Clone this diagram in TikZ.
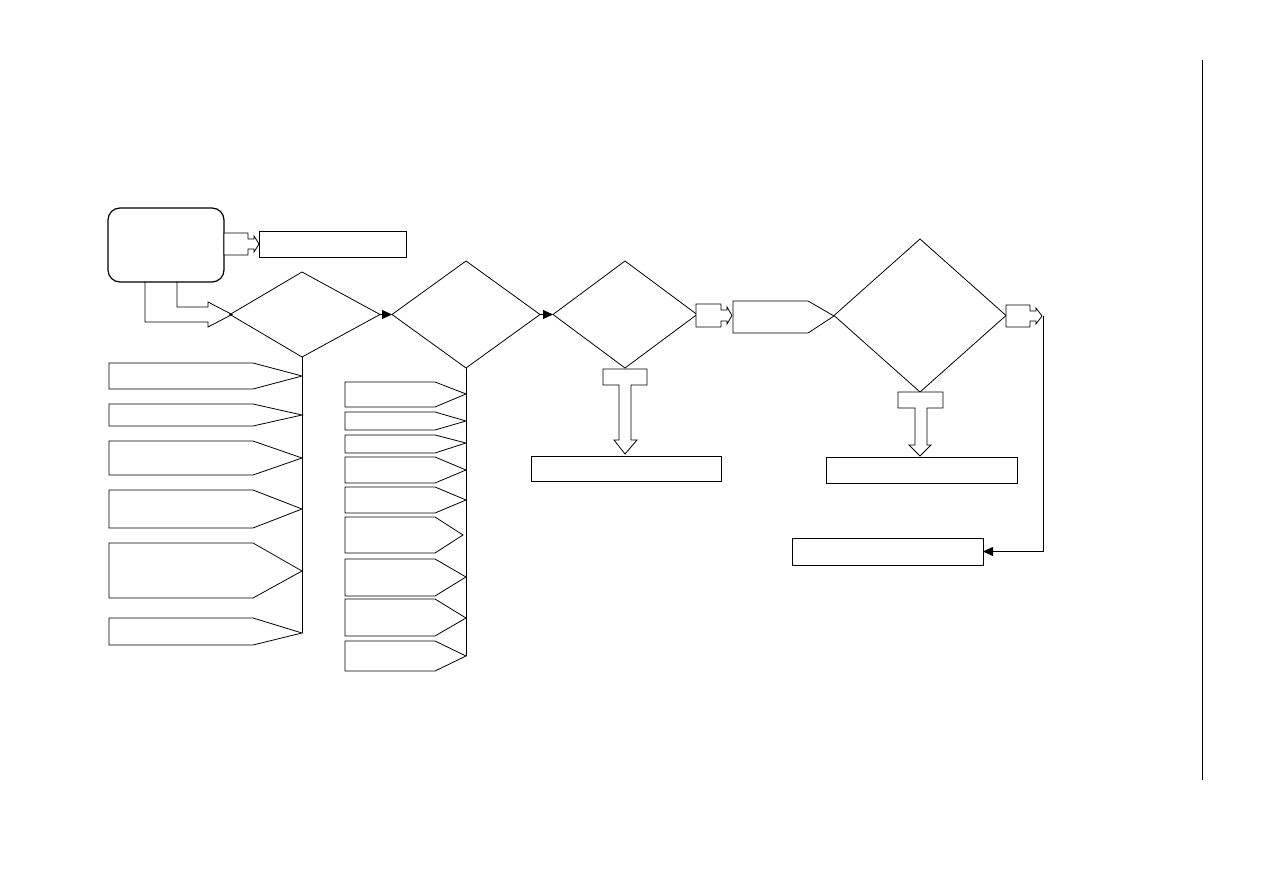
\documentclass[tikz,border=0pt]{standalone}
\usetikzlibrary{arrows.meta,shapes.geometric}
\begin{document}
\begin{tikzpicture}[x=1pt,y=-1pt, line width=0.8pt, line join=miter,
  box/.style={draw, rectangle, inner sep=0pt, outer sep=0pt, anchor=north west},
  dia/.style={draw, diamond, inner sep=0pt, outer sep=0pt},
  tri/.style={-{Triangle[length=10pt,width=9pt]}},
  blk/.style={draw, fill=white}]
\useasboundingbox (0,0) rectangle (1263,893);
% start
\node[box, rounded corners=12pt, line width=1.2pt, minimum width=116pt, minimum height=74pt] (start) at (108,208) {};
\draw[blk] (224,233) -- (248,233) -- (248,239) -- (254,239) -- (254,236) -- (259,244) -- (254,252) -- (254,249) -- (248,249) -- (248,255) -- (224,255) -- cycle;
\node[box, minimum width=147pt, minimum height=26pt] (r1) at (259,231) {};
% block arrow to first decision
\draw (145,282) -- (145,322) -- (208,322) -- (208,327) -- (232,314.5) -- (208,302) -- (208,307) -- (177,307) -- (177,282);
% decisions
\coordinate (d1w) at (230,314.5);
\coordinate (d1n) at (302,272);
\coordinate (d1e) at (380,314.5);
\coordinate (d1s) at (302,357);
\draw (d1w) -- (d1n) -- (d1e) -- (d1s) -- cycle;
\node[dia, minimum width=148pt, minimum height=107pt] (d2) at (466,314.5) {};
\node[dia, minimum width=144pt, minimum height=107pt] (d3) at (625,314.5) {};
\node[dia, minimum width=172pt, minimum height=153pt] (d4) at (920,315.5) {};
\draw[tri] (d1e) -- (d2.west);
\draw[tri] (d2.east) -- (d3.west);
% notch box after d3
\draw[blk] (696,304) -- (721,304) -- (721,310) -- (727,310) -- (727,307) -- (732,315.5) -- (727,324) -- (727,321) -- (721,321) -- (721,327) -- (696,327) -- cycle;
\draw (733,301) -- (808,301) -- (834,316) -- (808,333) -- (733,333) -- cycle;
% notch box after d4
\draw[blk] (1006,305) -- (1030,305) -- (1030,311) -- (1036,311) -- (1036,308) -- (1042,316) -- (1036,324) -- (1036,321) -- (1030,321) -- (1030,327) -- (1006,327) -- cycle;
\coordinate (n3tip) at (1043,316);
\node[box, minimum width=191pt, minimum height=27pt] (r4) at (792,538) {};
\draw[tri] (n3tip) |- (r4.east);
% T arrows
\draw[blk] (603,369) -- (647,369) -- (647,385) -- (631,385) -- (631,440) -- (637,440) -- (625,454) -- (614,440) -- (619,440) -- (619,385) -- (603,385) -- cycle;
\node[box, minimum width=190pt, minimum height=25pt] (r2) at (531,456) {};
\draw[blk] (898,392) -- (943,392) -- (943,408) -- (927,408) -- (927,445) -- (931,445) -- (920,456) -- (909,445) -- (915,445) -- (915,408) -- (898,408) -- cycle;
\node[box, minimum width=191pt, minimum height=26pt] (r3) at (826,457) {};
% column 1
\draw (d1s) -- (302,633);
\foreach \a/\b/\t in {363/389/376, 404/426/415, 441/475/458, 490/528/509, 543/598/571, 618/645/633}{
  \draw (109,\a) -- (253,\a) -- (302,\t) -- (253,\b) -- (109,\b) -- cycle;
}
% column 2
\draw (d2.south) -- (466,656);
\foreach \a/\b/\t/\x in {382/407/394/466, 412/430/421/466, 435/453/443/466, 457/483/470/466, 487/513/500/466, 517/553/535/463, 559/596/577/466, 599/636/618/466, 641/671/656/466}{
  \draw (345,\a) -- (435,\a) -- (\x,\t) -- (435,\b) -- (345,\b) -- cycle;
}
% right border line
\draw (1202,60) -- (1202,780);
\end{tikzpicture}
\end{document}
